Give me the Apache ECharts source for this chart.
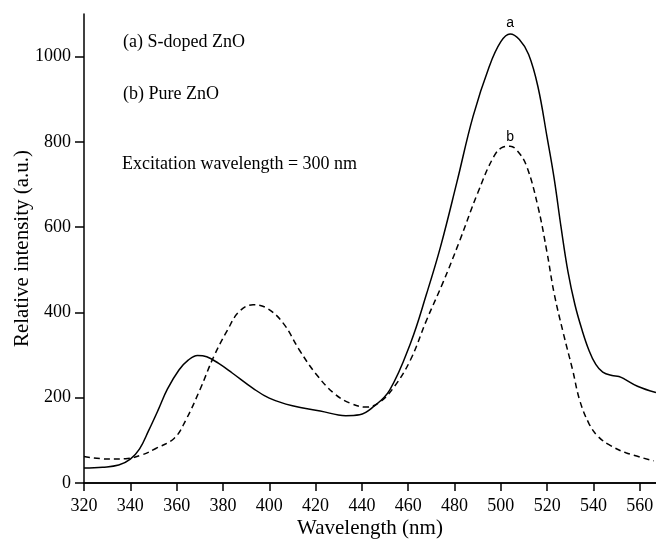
<!DOCTYPE html>
<html>
<head>
<meta charset="utf-8">
<script src="https://cdn.jsdelivr.net/npm/echarts@6/dist/echarts.min.js"></script>
<style>
html,body{margin:0;padding:0;background:#fff;}
#c{width:656px;height:541px;}
</style>
</head>
<body>
<div id="c"></div>
<script>
// Wavelength (nm) and relative intensity (a.u.)
var sDopedWl  = [320,328,335,340,344,348,352,356,361,365,369,373,378,384,393,400,410,422,433,439,445,452,461,468,474,481,488,495,500,504,508,512,516,520,523,526,529,532,535,538,541,544,548,551,554,559,567];
var sDopedVal = [35,37,42,56,80,124,171,220,265,288,299,296,281,258,222,199,181,169,158,160,179,218,328,445,555,705,860,977,1035,1053,1040,1005,930,810,715,600,495,418,360,312,278,260,252,250,242,227,212];
var pureWl    = [320,331,338,345,351,359,364,370,376,382,387,393,399,406,413,420,428,435,442,448,454,461,468,475,482,490,497,501,504,507,511,516,520,523,527,531,534,538,542,547,554,566];
var pureVal   = [62,56,57,66,81,105,148,218,296,359,402,418,410,375,312,257,210,187,178,191,226,289,383,470,565,680,766,788,790,780,745,649,539,445,351,265,195,140,109,89,71,52];
var xTicks = [320,340,360,380,400,420,440,460,480,500,520,540,560];
var yTicks = [0,200,400,600,800,1000];
var peakA = [504, 1053];
var peakB = [504, 790];

function zip(a,b){return a.map(function(v,i){return [v,b[i]];});}
function plain(v){return String(v);}

var serif = 'Liberation Serif';
var chart = echarts.init(document.getElementById('c'));
chart.setOption({
  animation:false,
  backgroundColor:'#fff',
  grid:{left:84,right:0,top:14,bottom:58,show:false,containLabel:false,outerBoundsMode:'none'},
  xAxis:[{
    type:'value', min:320, max:567, interval:20,
    name:'Wavelength (nm)', nameLocation:'middle', nameGap:35, nameMoveOverlap:false,
    nameTextStyle:{fontFamily:serif,fontSize:21,color:'#000'},
    axisLine:{show:true,onZero:false,lineStyle:{color:'#000',width:1.5}},
    axisTick:{show:true,length:8,customValues:xTicks,lineStyle:{color:'#000',width:1.5}},
    axisLabel:{fontFamily:serif,fontSize:18,color:'#000',margin:14,customValues:xTicks,formatter:plain},
    splitLine:{show:false}
  },{
    type:'value', position:'top', min:320, max:567,
    axisLine:{show:true,lineStyle:{color:'#000',width:1.5}},
    axisTick:{show:false}, axisLabel:{show:false}, splitLine:{show:false}
  }],
  yAxis:{
    type:'value', min:0, max:1100, interval:200,
    name:'Relative intensity (a.u.)', nameLocation:'middle', nameGap:51, nameMoveOverlap:false,
    nameTextStyle:{fontFamily:serif,fontSize:21,color:'#000'},
    axisLine:{show:true,lineStyle:{color:'#000',width:1.5}},
    axisTick:{show:true,length:9,customValues:yTicks,lineStyle:{color:'#000',width:1.5}},
    axisLabel:{fontFamily:serif,fontSize:18,color:'#000',margin:13,customValues:yTicks,formatter:plain},
    splitLine:{show:false}
  },
  series:[{
    type:'line', name:'S-doped ZnO', data:zip(sDopedWl,sDopedVal),
    smooth:0.4, showSymbol:false, symbol:'none',
    lineStyle:{color:'#000',width:1.5,type:'solid'},
    markPoint:{symbol:'circle',symbolSize:0,
      label:{show:true,position:'top',distance:4,formatter:'a',fontFamily:'Liberation Sans',fontSize:14,color:'#000'},
      data:[{coord:peakA}]}
  },{
    type:'line', name:'Pure ZnO', data:zip(pureWl,pureVal),
    smooth:0.4, showSymbol:false, symbol:'none',
    lineStyle:{color:'#000',width:1.5,type:[6,4]},
    markPoint:{symbol:'circle',symbolSize:0,
      label:{show:true,position:'top',distance:2,formatter:'b',fontFamily:'Liberation Sans',fontSize:14,color:'#000'},
      data:[{coord:peakB}]}
  }],
  graphic:[
    {type:'text',left:123,top:33,style:{text:'(a) S-doped ZnO',font:'18px "Liberation Serif"',fill:'#000'}},
    {type:'text',left:123,top:85,style:{text:'(b) Pure ZnO',font:'18px "Liberation Serif"',fill:'#000'}},
    {type:'text',left:122,top:155,style:{text:'Excitation wavelength = 300 nm',font:'18px "Liberation Serif"',fill:'#000'}}
  ]
});
</script>
</body>
</html>
